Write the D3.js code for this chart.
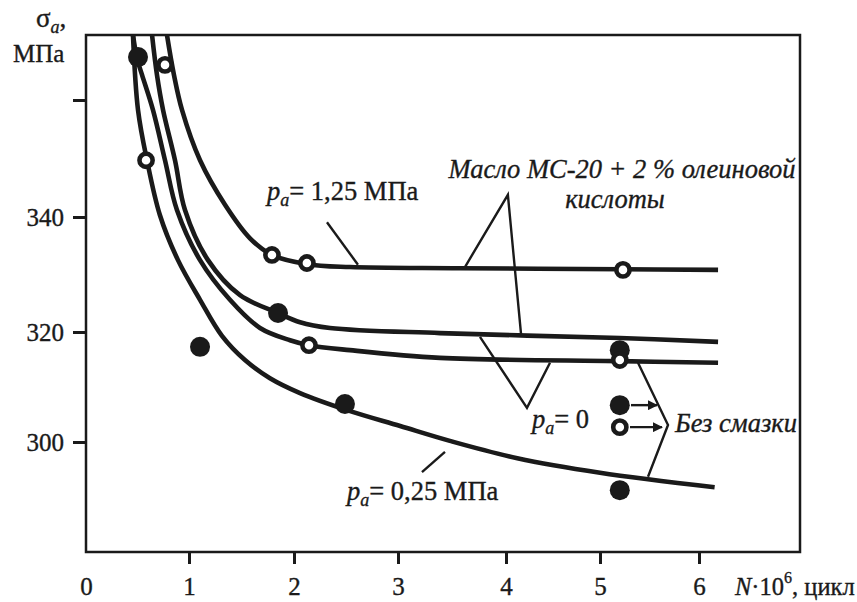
<!DOCTYPE html>
<html><head><meta charset="utf-8">
<script src="https://cdn.jsdelivr.net/npm/d3@7"></script>
<style>
body{margin:0;background:#fff}
text{font-family:"Liberation Serif","Times New Roman",Times,serif;fill:#1a1a1a;stroke:#1a1a1a;stroke-width:0.35px}
</style>
</head><body><svg id="c" width="857" height="602"></svg>
<script>
// ---- data ----
const xTickValues = [0, 1, 2, 3, 4, 5, 6];
const xTickLabels = ["0", "1", "2", "3", "4", "5", "6"];
const yTickValues = [300, 320, 340, 360];
const yTickLabels = ["300", "320", "340", ""];

// curves [N·10^6, σa]
const curve125 = [[0.786,371.7],[0.854,364.5],[0.932,358.3],[1.105,349.7],[1.343,342.1],[1.581,336.3],[1.790,333.4],[2.124,331.8],[2.538,331.3],[3.574,331.1],[5.232,330.9],[6.183,330.8]];
const curveP0a = [[0.641,371.7],[0.689,364.5],[0.748,358.3],[0.864,349.7],[0.961,341.2],[1.181,332.5],[1.486,326.4],[1.848,323.3],[2.058,321.7],[2.346,320.7],[3.389,319.8],[5.202,318.9],[6.183,318.2]];
const curveP0b = [[0.456,371.7],[0.495,367.5],[0.544,364.5],[0.650,358.3],[0.767,349.7],[0.883,341.2],[1.105,332.5],[1.390,325.6],[1.676,320.7],[1.962,318.5],[2.144,317.6],[2.538,316.7],[3.389,315.3],[5.202,314.7],[6.183,314.4]];
const curve025 = [[0.456,371.7],[0.505,358.3],[0.592,349.7],[0.718,340.3],[0.893,332.5],[1.105,325.6],[1.314,319.3],[1.533,314.9],[1.771,311.6],[2.058,308.9],[2.51,305.8],[3.02,302.9],[3.48,300.2],[4.12,297.2],[5.0,294.7],[6.15,292.2]];

const filledPoints = [[0.505,367.7],[1.848,323.3],[1.105,317.3],[2.49,306.9],[5.2,316.7],[5.2,306.7],[5.2,291.7]];
const openPoints = [[0.583,349.7],[0.767,366.3],[1.790,333.4],[2.124,332.0],[2.144,317.6],[5.232,330.8],[5.2,314.9],[5.2,302.7]];

// annotation leader lines (data units)
const leader125 = [[2.317,339.1],[2.615,331.7]];
const leaderOil = [[3.62,331.3],[4.02,343.8],[4.16,319.6]];
const leaderP0 = [[3.759,319.1],[4.223,306.2],[4.468,314.4]];
const leader025 = [[3.222,294.8],[3.435,298.3]];
const bracketDry = [[5.384,314.4],[5.687,303.1],[5.485,294.0]];
const arrowsDry = [[[5.313,306.7],[5.576,306.7]],[[5.303,302.7],[5.626,302.7]]];

// ---- drawing ----
const svg = d3.select("#c");
svg.append("rect").attr("width",857).attr("height",602).attr("fill","#fff");

const x = d3.scaleLinear().domain([0,1,2,3,4,5,6,6.97]).range([86,189,294,398,506,600,699,800]);
const y = d3.scaleLinear().domain([281.03,300,320,340,360,371.67]).range([552,442,332,217,100,35]);

const ink = "#1a1a1a";
const FONT = "Liberation Serif, Times New Roman, Times, serif";

const defs = svg.append("defs");
defs.append("clipPath").attr("id","clip")
  .append("rect").attr("x",86).attr("y",35).attr("width",714).attr("height",517);
defs.append("marker").attr("id","arr")
  .attr("viewBox","0 0 10 10").attr("refX",9).attr("refY",5)
  .attr("markerWidth",16).attr("markerHeight",10).attr("markerUnits","userSpaceOnUse")
  .attr("orient","auto")
  .append("path").attr("d","M0,0 L10,5 L0,10 Z").attr("fill",ink);

// frame
svg.append("rect").attr("x",86).attr("y",35).attr("width",714).attr("height",517)
  .attr("fill","none").attr("stroke",ink).attr("stroke-width",2.5);

// x axis
const xAxis = d3.axisBottom(x).tickValues(xTickValues).tickSize(12).tickFormat((d,i)=>xTickLabels[i]);
const gx = svg.append("g").attr("transform","translate(0,552)").call(xAxis)
  .attr("font-family",FONT);
gx.select(".domain").remove();
gx.selectAll(".tick line").attr("stroke",ink).attr("stroke-width",3)
  .attr("display",d=>d===0?"none":null);
gx.selectAll(".tick text").attr("y",43).attr("dy",0).attr("font-size",25).attr("fill",ink);

// y axis
const yAxis = d3.axisLeft(y).tickValues(yTickValues).tickSize(13).tickFormat((d,i)=>yTickLabels[i]);
const gy = svg.append("g").attr("transform","translate(86,0)").call(yAxis)
  .attr("font-family",FONT);
gy.select(".domain").remove();
gy.selectAll(".tick line").attr("stroke",ink).attr("stroke-width",3);
gy.selectAll(".tick text").attr("x",-22).attr("dy",8.5).attr("font-size",25).attr("fill",ink);

// curves
const line = d3.line().x(d=>x(d[0])).y(d=>y(d[1])).curve(d3.curveCatmullRom.alpha(0.5));
const plot = svg.append("g").attr("clip-path","url(#clip)");
[curve125, curveP0a, curveP0b, curve025].forEach(c=>{
  plot.append("path").attr("d",line(c)).attr("fill","none").attr("stroke",ink)
    .attr("stroke-width",4.6).attr("stroke-linecap","butt");
});

// leaders
const straight = d3.line().x(d=>x(d[0])).y(d=>y(d[1]));
[leader125, leaderOil, leaderP0, leader025, bracketDry].forEach(l=>{
  svg.append("path").attr("d",straight(l)).attr("fill","none").attr("stroke",ink)
    .attr("stroke-width",2.4).attr("stroke-linejoin","miter");
});
arrowsDry.forEach(a=>{
  svg.append("path").attr("d",straight(a)).attr("fill","none").attr("stroke",ink)
    .attr("stroke-width",2.4).attr("marker-end","url(#arr)");
});

// markers
plot.selectAll("circle.f").data(filledPoints).join("circle").attr("class","f")
  .attr("cx",d=>x(d[0])).attr("cy",d=>y(d[1])).attr("r",10).attr("fill",ink);
svg.selectAll("circle.o").data(openPoints).join("circle").attr("class","o")
  .attr("cx",d=>x(d[0])).attr("cy",d=>y(d[1])).attr("r",6.6)
  .attr("fill","#fff").attr("stroke",ink).attr("stroke-width",4.6);

// texts
const AF = 26.5;
function paLabel(tx, ty, rest){
  const t = svg.append("text").attr("x",tx).attr("y",ty).attr("font-size",AF);
  t.append("tspan").attr("font-style","italic").text("p");
  t.append("tspan").attr("font-style","italic").attr("font-size",18).attr("dy",6).text("a");
  t.append("tspan").attr("dy",-6).text(rest);
}
paLabel(267,200,"= 1,25 МПа");
paLabel(532,428,"= 0");
paLabel(347,500,"= 0,25 МПа");

svg.append("text").attr("x",622).attr("y",178).attr("text-anchor","middle")
  .attr("font-size",AF).attr("font-style","italic").text("Масло МС-20 + 2 % олеиновой");
svg.append("text").attr("x",615).attr("y",208).attr("text-anchor","middle")
  .attr("font-size",AF).attr("font-style","italic").text("кислоты");
svg.append("text").attr("x",675).attr("y",432)
  .attr("font-size",AF).attr("font-style","italic").text("Без смазки");

// axis titles
const yt = svg.append("text").attr("x",36).attr("y",27).attr("font-size",27);
yt.append("tspan").text("σ");
yt.append("tspan").attr("font-style","italic").attr("font-size",18).attr("dy",6).text("a");
yt.append("tspan").attr("dy",-6).text(",");
svg.append("text").attr("x",13).attr("y",62).attr("font-size",25).text("МПа");

const xt = svg.append("text").attr("x",735).attr("y",595).attr("font-size",24.5);
xt.append("tspan").attr("font-style","italic").text("N");
xt.append("tspan").text("·10");
xt.append("tspan").attr("font-size",16).attr("dy",-12).text("6");
xt.append("tspan").attr("dy",12).text(", цикл");
</script>
</body></html>
